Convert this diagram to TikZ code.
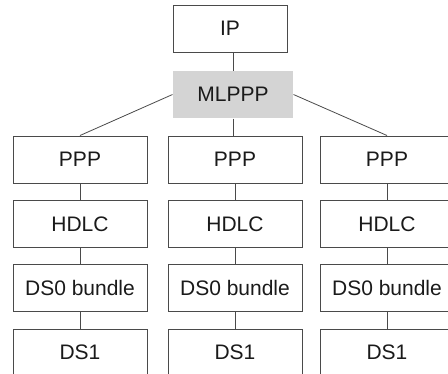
\documentclass[tikz,border=0pt]{standalone}
\usepackage{fontspec}
\setmainfont{Liberation Sans}
\definecolor{linec}{HTML}{4A4A4A}
\definecolor{textc}{HTML}{1A1A1A}
\definecolor{fillc}{HTML}{D4D4D4}
\begin{document}
\begin{tikzpicture}[x=1pt,y=-1pt,
  layer/.style={draw=linec, line width=1pt, minimum width=134pt, minimum height=47pt, inner sep=0pt, text=textc, font=\fontsize{21}{24}\selectfont},
  conn/.style={draw=linec, line width=0.8pt}]
\useasboundingbox (0,0) rectangle (448,373);
\clip (0,0) rectangle (448,373);
\node[layer, minimum width=114pt] (ip) at (230,28.5) {IP};
\node[layer, draw=none, fill=fillc, minimum width=120pt] (ml) at (233,94.5) {MLPPP};
\foreach \c/\x in {a/80,b/235,c/387}{
  \node[layer] (ppp\c) at (\x,159.5) {PPP};
  \node[layer] (hdlc\c) at (\x,224) {HDLC};
  \node[layer] (ds0\c) at (\x,288) {DS0 bundle};
  \node[layer] (ds1\c) at (\x,352.5) {DS1};
  \draw[conn] (ppp\c.south) -- (hdlc\c.north);
  \draw[conn] (hdlc\c.south) -- (ds0\c.north);
  \draw[conn] (ds0\c.south) -- (ds1\c.north);
}
\draw[conn] (ml.north |- ip.south) -- (ml.north);
\draw[conn] (ml.west) -- (pppa.north);
\draw[conn] (ml.east) -- (pppc.north);
\draw[conn] (ml.south) -- (ml.south |- pppb.north);
\end{tikzpicture}
\end{document}
